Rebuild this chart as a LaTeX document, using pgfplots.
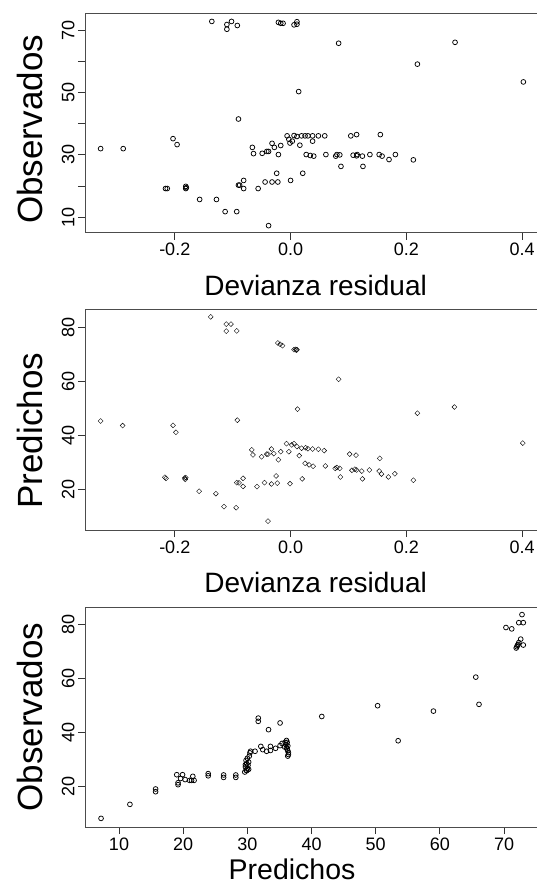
\documentclass[border=0pt]{standalone}
\usepackage{fontspec}
\setmainfont{Liberation Sans}
\usepackage{pgfplots}
\pgfplotsset{compat=1.18}
\begin{document}
\begin{tikzpicture}
\path[use as bounding box] (0pt,0pt) rectangle (537pt,-884pt);
\pgfplotsset{
  rstyle/.style={
    scale only axis,
    width=454pt,
    axis line style={draw=black!70, line width=0.9pt},
    tick style={draw=black!80, line width=0.9pt},
    tick align=outside, major tick length=7pt, tick pos=left,
    ticklabel style={font=\fontsize{18}{18}\selectfont},
    yticklabel style={rotate=90, anchor=south},
    xticklabel style={anchor=north},
    xlabel style={font=\fontsize{28}{28}\selectfont, anchor=base},
    ylabel style={font=\fontsize{35}{35}\selectfont, anchor=base},
    every axis plot/.append style={only marks, mark options={line width=0.75pt, draw=black, fill=none}},
  }
}
% ---------- Panel 1 ----------
\begin{axis}[rstyle,
  at={(85pt,-232.5pt)}, anchor=south west, height=219.5pt,
  xmin=-0.355, xmax=0.429, ymin=5.1, ymax=75.5,
  xtick={-0.2,0,0.2,0.4}, xticklabels={-0.2,0.0,0.2,0.4},
  ytick={10,20,30,40,50,60,70}, yticklabels={10,{},30,{},50,{},70},
  xlabel={Devianza residual}, ylabel={Observados},
  xlabel style={at={(axis description cs:0.508,-0.287)}},
  ylabel style={at={(axis description cs:-0.094,0.47)}},
]
\addplot[mark=o, mark size=2.4pt] table {
-0.328 32.0
-0.289 32.0
-0.203 35.2
-0.196 33.3
-0.216 19.2
-0.213 19.2
-0.181 19.9
-0.181 19.2
-0.180 19.5
-0.157 15.7
-0.128 15.7
-0.113 11.8
-0.093 11.8
-0.038 7.3
-0.136 72.8
-0.110 71.8
-0.102 72.8
-0.110 70.3
-0.092 71.5
-0.021 72.5
-0.017 72.2
-0.013 72.2
0.006 71.7
0.011 72.7
0.011 71.9
0.014 50.3
-0.090 41.5
-0.066 32.4
-0.064 30.4
-0.049 30.5
-0.041 31.1
-0.038 31.1
-0.032 33.7
-0.028 32.4
-0.021 30.1
-0.017 33.0
-0.006 36.1
-0.003 35.0
-0.001 33.8
0.003 34.4
0.006 36.2
0.011 35.9
0.016 33.1
0.019 36.1
0.025 36.1
0.030 36.1
0.038 36.1
0.048 36.1
0.059 36.1
0.038 34.4
0.104 36.1
0.114 36.5
0.155 36.5
-0.024 24.1
-0.044 21.3
-0.032 21.3
-0.022 21.3
0.000 21.8
0.021 24.1
-0.056 19.2
-0.090 20.3
-0.088 20.3
-0.081 21.8
-0.081 19.2
0.027 30.1
0.034 29.8
0.040 29.6
0.061 30.1
0.078 29.6
0.080 30.1
0.085 30.0
0.108 29.9
0.115 30.1
0.114 29.7
0.124 29.6
0.137 30.1
0.153 30.1
0.158 29.6
0.170 28.5
0.181 30.1
0.212 28.4
0.087 26.3
0.125 26.3
0.083 65.8
0.284 66.1
0.219 59.1
0.402 53.4
};
\end{axis}
% ---------- Panel 2 ----------
\begin{axis}[rstyle,
  at={(85pt,-530pt)}, anchor=south west, height=220.7pt,
  xmin=-0.355, xmax=0.429, ymin=4.8, ymax=86.8,
  xtick={-0.2,0,0.2,0.4}, xticklabels={-0.2,0.0,0.2,0.4},
  ytick={20,40,60,80}, yticklabels={20,40,60,80},
  xlabel={Devianza residual}, ylabel={Predichos},
  xlabel style={at={(axis description cs:0.508,-0.281)}},
  ylabel style={at={(axis description cs:-0.094,0.45)}},
]
\addplot[mark=square, mark size=1.75pt, mark options={rotate=45}] table {
-0.328 45.3
-0.290 43.6
-0.203 43.7
-0.198 41.1
-0.217 24.4
-0.215 24.0
-0.183 24.1
-0.182 23.6
-0.181 24.3
-0.158 19.2
-0.129 18.3
-0.115 13.5
-0.094 13.1
-0.039 8.1
-0.138 84.0
-0.111 81.3
-0.103 81.3
-0.111 78.7
-0.093 78.8
-0.022 74.3
-0.018 73.8
-0.014 73.3
0.006 71.8
0.009 71.9
0.011 71.8
0.010 71.6
0.012 49.7
-0.092 45.6
-0.067 34.6
-0.065 32.7
-0.050 32.0
-0.041 33.0
-0.039 33.0
-0.033 34.9
-0.029 33.2
-0.021 30.9
-0.017 33.9
-0.007 36.9
-0.003 33.9
0.002 36.4
0.006 36.9
0.015 32.4
0.019 35.2
0.026 35.4
0.038 34.9
0.048 34.8
0.058 34.3
0.011 35.8
0.030 35.0
0.102 33.0
0.113 32.6
0.154 31.4
0.025 29.6
0.032 29.0
0.039 28.5
0.060 28.6
0.077 27.7
0.080 28.0
0.085 27.7
0.086 24.5
0.106 27.0
0.111 27.4
0.114 27.1
0.123 26.7
0.124 23.8
0.136 27.1
0.153 26.7
0.157 25.6
0.169 24.5
0.180 25.7
0.212 23.3
-0.025 24.9
-0.045 22.4
-0.033 21.9
-0.023 22.2
-0.001 22.0
0.020 23.8
-0.058 20.9
-0.093 22.4
-0.089 22.3
-0.082 24.0
-0.082 21.0
0.083 60.8
0.283 50.5
0.219 48.2
0.401 37.1
};
\end{axis}
% ---------- Panel 3 ----------
\begin{axis}[rstyle,
  at={(85pt,-827pt)}, anchor=south west, height=219.7pt,
  xmin=4.7, xmax=75.45, ymin=4.9, ymax=86.4,
  xtick={10,20,30,40,50,60,70}, xticklabels={10,20,30,40,50,60,70},
  ytick={20,40,60,80}, yticklabels={20,40,60,80},
  xlabel={Predichos}, ylabel={Observados},
  xlabel style={at={(axis description cs:0.456,-0.237)}, font=\fontsize{28.5}{28.5}\selectfont},
  ylabel style={at={(axis description cs:-0.094,0.5)}},
]
\addplot[mark=o, mark size=2.4pt] table {
7.2 8.1
11.7 13.3
15.7 19.0
15.7 18.0
19.0 24.3
19.9 24.3
19.2 21.3
19.2 20.6
19.6 22.9
20.3 22.5
21.0 22.2
21.3 22.2
21.7 22.2
21.5 23.7
23.9 24.7
23.9 23.9
26.3 24.2
26.3 23.3
28.2 24.2
28.2 23.3
29.6 25.3
29.8 26.0
30.0 26.6
29.7 27.2
30.1 27.8
29.9 28.4
30.2 29.0
29.8 29.6
30.0 30.4
30.3 31.2
30.4 32.4
30.5 33.0
29.9 25.8
30.2 26.3
29.7 28.0
31.2 33.0
31.7 45.3
31.7 44.1
33.3 41.0
35.1 43.5
32.1 34.8
32.4 33.6
33.0 33.0
33.6 34.8
33.6 33.3
34.4 34.1
35.1 35.1
35.4 35.9
35.9 36.3
36.1 37.0
36.2 36.3
36.0 35.5
36.3 35.0
36.1 34.4
36.2 33.8
36.3 33.2
36.4 32.5
36.4 31.8
36.3 31.2
35.8 34.6
41.6 45.9
50.3 49.9
53.5 36.9
59.0 47.9
65.6 60.5
66.1 50.4
70.3 78.9
71.2 78.4
72.3 80.7
73.0 80.7
72.8 83.7
72.6 74.6
73.0 72.4
71.9 71.3
72.0 71.8
72.1 72.3
72.3 73.3
72.2 72.6
};
\end{axis}
\end{tikzpicture}
\end{document}
